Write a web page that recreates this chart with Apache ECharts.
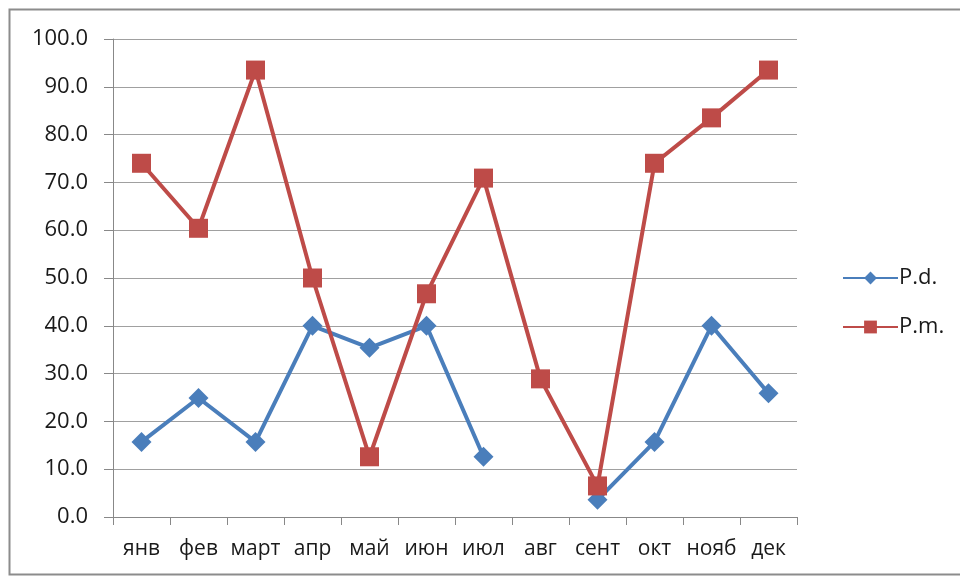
<!DOCTYPE html>
<html><head><meta charset="utf-8">
<script src="https://cdn.jsdelivr.net/npm/echarts@6/dist/echarts.min.js"></script>
<style>html,body{margin:0;padding:0;background:#fff}#c{width:960px;height:578px}</style>
</head><body><div id="c"></div>
<script>
const categories = ['янв','фев','март','апр','май','июн','июл','авг','сент','окт','нояб','дек'];
const pd = [15.7, 24.9, 15.7, 40.0, 35.4, 40.0, 12.6, null, 3.6, 15.7, 40.0, 25.9];
const pm = [74.0, 60.4, 93.5, 50.0, 12.6, 46.7, 70.9, 28.9, 6.5, 74.0, 83.5, 93.5];
const yTicks = {min: 0, max: 100, interval: 10};

const FONT = 'Open Sans';
const chart = echarts.init(document.getElementById('c'));
chart.setOption({
  animation: false,
  backgroundColor: '#fff',
  graphic: [{type: 'rect', shape: {x: 9.5, y: 9.5, width: 960, height: 565}, style: {fill: 'none', stroke: '#8c8c8c', lineWidth: 2}, silent: true, z: -1}],
  grid: {left: 113, right: 163, top: 39, bottom: 61},
  legend: {
    orient: 'vertical', left: 837, top: 262, itemGap: 27, itemWidth: 55, itemHeight: 16,
    textStyle: {fontFamily: FONT, fontSize: 22, color: '#1a1a1a', padding: [0,0,0,-4]},
    data: ['P.d.', 'P.m.']
  },
  xAxis: {
    type: 'category', data: categories, boundaryGap: true,
    axisLine: {lineStyle: {color: '#888', width: 1}},
    axisTick: {show: true, length: 8, alignWithLabel: false, lineStyle: {color: '#888'}},
    axisLabel: {fontFamily: FONT, fontSize: 21, color: '#1a1a1a', margin: 22, interval: 0}
  },
  yAxis: {
    type: 'value', min: yTicks.min, max: yTicks.max, interval: yTicks.interval,
    axisLine: {show: true, lineStyle: {color: '#888', width: 1}},
    axisTick: {show: true, length: 9, lineStyle: {color: '#888'}},
    splitLine: {lineStyle: {color: '#a0a0a0', width: 1}},
    axisLabel: {fontFamily: FONT, fontSize: 22, color: '#1a1a1a', margin: 25, formatter: v => v.toFixed(1)}
  },
  series: [
    {name: 'P.d.', type: 'line', data: pd, connectNulls: false, symbol: 'diamond', symbolSize: 20,
     itemStyle: {color: '#4a7ebb'}, lineStyle: {color: '#4a7ebb', width: 4}, z: 2},
    {name: 'P.m.', type: 'line', data: pm, symbol: 'rect', symbolSize: 19,
     itemStyle: {color: '#be4b48'}, lineStyle: {color: '#be4b48', width: 4}, z: 3}
  ]
});
</script></body></html>
